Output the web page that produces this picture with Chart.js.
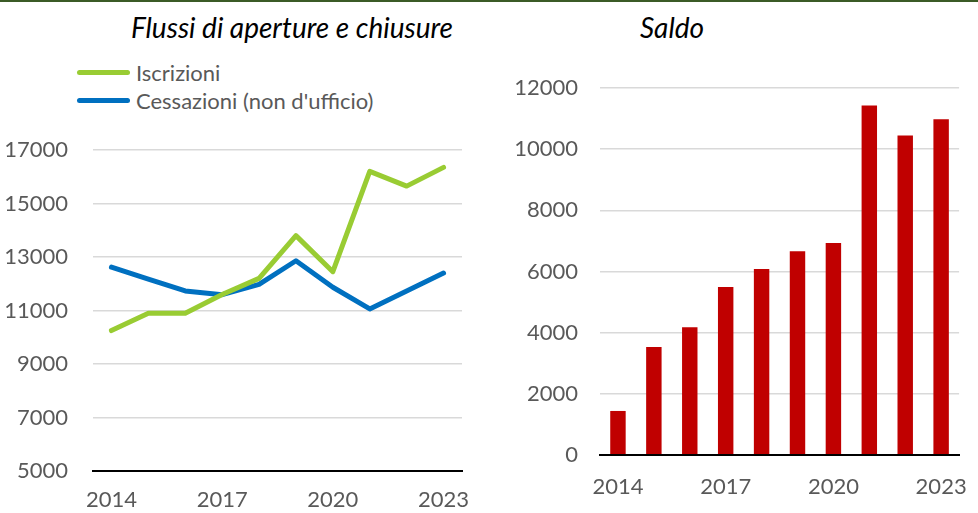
<!DOCTYPE html>
<html>
<head>
<meta charset="utf-8">
<script src="https://cdn.jsdelivr.net/npm/chart.js@4/dist/chart.umd.min.js"></script>
<style>
  html, body { margin:0; padding:0; background:#fff; }
  #wrap { position:relative; width:978px; height:513px; overflow:hidden; font-family:Lato, "Open Sans", sans-serif; }
  #topbar { position:absolute; left:0; top:0; width:978px; height:2px; background:#3b5b26; }
  .title { position:absolute; top:10px; font-style:italic; font-size:28px; line-height:34px; color:#000; white-space:nowrap; transform:translateX(-50%); }
  #legend { position:absolute; left:77px; top:58px; font-size:22px; color:#595959; }
  .leg { display:flex; align-items:center; height:28px; }
  .leg i { display:inline-block; width:53px; height:5px; border-radius:3px; margin-right:6px; }
  #cLeft { position:absolute; left:0; top:0; }
  #cRight { position:absolute; left:490px; top:0; }
</style>
</head>
<body>
<div id="wrap">
  <div id="topbar"></div>
  <div class="title" style="left:292px">Flussi di aperture e chiusure</div>
  <div class="title" style="left:672px">Saldo</div>
  <div id="legend"></div>
  <canvas id="cLeft" width="480" height="513"></canvas>
  <canvas id="cRight" width="488" height="513"></canvas>
</div>
<script>
// data
const years = ["2014","2015","2016","2017","2018","2019","2020","2021","2022","2023"];
const iscrizioni = [10250, 10900, 10900, 11600, 12200, 13800, 12450, 16200, 15650, 16350];
const cessazioni = [12620, 12170, 11730, 11590, 11980, 12860, 11870, 11060, 11730, 12400];
const saldo = [1440, 3530, 4180, 5490, 6080, 6660, 6930, 11430, 10450, 10980];
const leftTicks = [5000, 7000, 9000, 11000, 13000, 15000, 17000];
const rightTicks = [0, 2000, 4000, 6000, 8000, 10000, 12000];

const GREEN = "#99cc33", BLUE = "#0070c0", RED = "#c00000";
const TXT = "#595959", GRID = "#d9d9d9";
const tickFont = { family: "Lato", size: 22 };

Chart.defaults.font.family = "Lato";
Chart.defaults.animation = false;

function byId(id){ return document.getElementById(id); }

// legend (HTML, built from the dataset labels)
const legendItems = [["Iscrizioni", GREEN], ["Cessazioni (non d'ufficio)", BLUE]];
byId("legend").innerHTML = legendItems.map(([t,c]) =>
  `<div class="leg"><i style="background:${c}"></i>${t}</div>`).join("");

const everyThird = (v, i) => (i % 3 === 0 ? years[i] : "");
const plain = v => String(v);

new Chart(byId("cLeft").getContext("2d"), {
  type: "line",
  data: {
    labels: years,
    datasets: [
      { label: "Iscrizioni", data: iscrizioni, borderColor: GREEN, backgroundColor: GREEN },
      { label: "Cessazioni (non d'ufficio)", data: cessazioni, borderColor: BLUE, backgroundColor: BLUE }
    ]
  },
  options: {
    responsive: false,
    layout: { padding: { top: 150, right: 18, left: 0, bottom: 0 } },
    elements: {
      line: { borderWidth: 5, tension: 0, borderCapStyle: "round", borderJoinStyle: "round" },
      point: { radius: 0, hoverRadius: 0 }
    },
    plugins: { legend: { display: false }, tooltip: { enabled: false } },
    scales: {
      x: {
        offset: true,
        grid: { display: false },
        border: { display: true, color: "#000", width: 2 },
        ticks: { color: TXT, font: tickFont, autoSkip: false, maxRotation: 0, padding: 8, callback: everyThird },
        afterFit: s => { s.height = 42; }
      },
      y: {
        min: 5000, max: 17000,
        afterBuildTicks: s => { s.ticks = leftTicks.map(v => ({ value: v })); },
        grid: { color: GRID, lineWidth: 1.5, drawTicks: false },
        border: { display: false },
        ticks: { color: TXT, font: tickFont, padding: 25, callback: plain },
        afterFit: s => { s.width = 93; }
      }
    }
  }
});

new Chart(byId("cRight").getContext("2d"), {
  type: "bar",
  data: {
    labels: years,
    datasets: [{ label: "Saldo", data: saldo, backgroundColor: RED, barPercentage: 0.43, categoryPercentage: 1 }]
  },
  options: {
    responsive: false,
    layout: { padding: { top: 88, right: 7, left: 0, bottom: 0 } },
    plugins: { legend: { display: false }, tooltip: { enabled: false } },
    scales: {
      x: {
        grid: { display: false },
        border: { display: true, color: "#000", width: 2, z: 1 },
        ticks: { color: TXT, font: tickFont, autoSkip: false, maxRotation: 0, padding: 11, callback: everyThird },
        afterFit: s => { s.height = 58; }
      },
      y: {
        min: 0, max: 12000,
        afterBuildTicks: s => { s.ticks = rightTicks.map(v => ({ value: v })); },
        grid: { color: GRID, lineWidth: 1.5, drawTicks: false },
        border: { display: false },
        ticks: { color: TXT, font: tickFont, padding: 22, callback: plain },
        afterFit: s => { s.width = 110; }
      }
    }
  }
});
</script>
</body>
</html>
